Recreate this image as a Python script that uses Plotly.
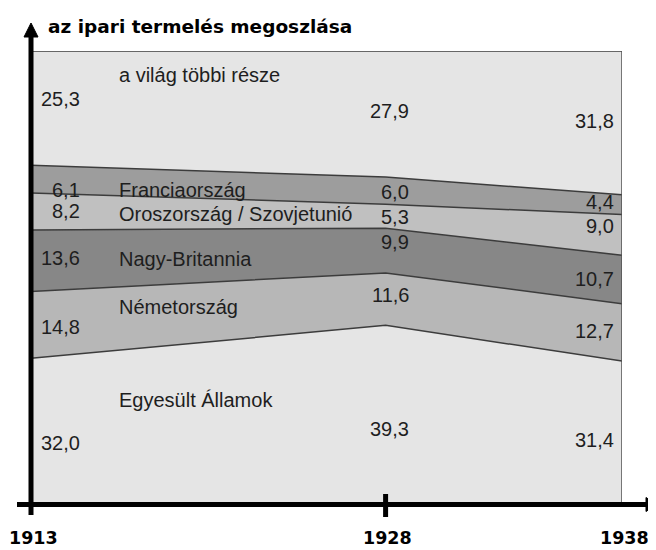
"""Share of world industrial production, 1913-1938 (stacked area)."""

import plotly.graph_objects as go

YEARS = [1913, 1928, 1938]

# bottom to top
COUNTRIES = [
    "Egyesült Államok",
    "Németország",
    "Nagy-Britannia",
    "Oroszország / Szovjetunió",
    "Franciaország",
    "a világ többi része",
]
USA = [32.0, 39.3, 31.4]
GERMANY = [14.8, 11.6, 12.7]
BRITAIN = [13.6, 9.9, 10.7]
RUSSIA = [8.2, 5.3, 9.0]
FRANCE = [6.1, 6.0, 4.4]
REST = [25.3, 27.9, 31.8]
SERIES = [USA, GERMANY, BRITAIN, RUSSIA, FRANCE, REST]

TITLE = "az ipari termelés megoszlása"

FILLS = ["#e5e5e5", "#b7b7b7", "#878787", "#c0c0c0", "#9d9d9d", "#e5e5e5"]
C_EDGE = "#3c3c3c"
C_TEXT = "#1e1e1e"
FONT = "Liberation Sans, Arial, sans-serif"
FONT_BOLD = "DejaVu Sans, sans-serif"

# pixel nudges for the value labels (per band, per year), relative to band middle
NUDGE = [
    [-12, -15, -8],
    [-2, 4, 1],
    [3, 9, 0],
    [0, -1, 9],
    [-11, -1, 3],
    [9, 3, 2],
]
# where the series names sit (percent on the y scale)
NAME_Y = [22.8, 43.4, 54.0, 63.9, 69.2, 94.7]
# value label right edges, pixels from each year's position
LABEL_XSHIFT = [51, 25, -6]

# the page body adds 8px on the left and top, so the figure is 8px smaller
W, H = 648, 542
M = dict(l=23, r=34, t=43, b=47)
PW = W - M["l"] - M["r"]
PH = H - M["t"] - M["b"]


def px_x(p):
    return p / PW


def px_y(p):
    return p / PH


fig = go.Figure()
for name, vals, fill in zip(COUNTRIES, SERIES, FILLS):
    fig.add_trace(
        go.Scatter(
            x=YEARS,
            y=vals,
            name=name,
            mode="lines",
            stackgroup="one",
            fillcolor=fill,
            line=dict(color=C_EDGE, width=1.5),
            hoverinfo="skip",
            showlegend=False,
        )
    )

annotations = []
base = [0.0] * len(YEARS)
for i, vals in enumerate(SERIES):
    for j, year in enumerate(YEARS):
        mid = base[j] + vals[j] / 2
        annotations.append(
            dict(
                x=year,
                y=mid,
                xref="x",
                yref="y",
                text=f"{vals[j]:.1f}".replace(".", ","),
                showarrow=False,
                xanchor="right",
                yanchor="middle",
                xshift=LABEL_XSHIFT[j],
                yshift=NUDGE[i][j],
                font=dict(family=FONT, size=20, color=C_TEXT),
            )
        )
    base = [b + v for b, v in zip(base, vals)]
    annotations.append(
        dict(
            x=YEARS[0],
            y=NAME_Y[i],
            xref="x",
            yref="y",
            text=COUNTRIES[i],
            showarrow=False,
            xanchor="left",
            yanchor="middle",
            xshift=86,
            font=dict(family=FONT, size=20, color=C_TEXT),
        )
    )

# year labels under the axis
for year in YEARS:
    annotations.append(
        dict(
            x=year,
            y=-px_y(35),
            xref="x",
            yref="paper",
            text=f"<b>{year}</b>",
            showarrow=False,
            xanchor="center",
            yanchor="middle",
            xshift=2,
            borderpad=0,
            font=dict(family=FONT_BOLD, size=17.5, color="#000000"),
        )
    )

annotations.append(
    dict(
        x=px_x(15),
        y=1 + px_y(25),
        xref="paper",
        yref="paper",
        text=f"<b>{TITLE}</b>",
        showarrow=False,
        xanchor="left",
        yanchor="middle",
        font=dict(family=FONT_BOLD, size=18.5, color="#000000"),
    )
)

shapes = [
    # right border of the plot
    dict(type="line", xref="x", yref="y", x0=YEARS[-1], x1=YEARS[-1], y0=0, y1=100,
         line=dict(color="#505050", width=1.5)),
    # y axis with arrow
    dict(type="line", xref="paper", yref="paper", x0=0, x1=0, y0=-px_y(12), y1=1 + px_y(15),
         line=dict(color="#000000", width=5)),
    dict(type="path", xref="paper", yref="paper",
         path=f"M {-px_x(7)},{1 + px_y(14)} L {px_x(7)},{1 + px_y(14)} L 0,{1 + px_y(28)} Z",
         fillcolor="#000000", line=dict(color="#000000", width=1)),
    # x axis with arrow
    dict(type="line", xref="paper", yref="paper", x0=-px_x(14), x1=1 + px_x(26),
         y0=-px_y(1.5), y1=-px_y(1.5), line=dict(color="#000000", width=5)),
    dict(type="path", xref="paper", yref="paper",
         path=f"M {1 + px_x(24)},{-px_y(8.5)} L {1 + px_x(24)},{px_y(5.5)} L {1 + px_x(35)},{-px_y(1.5)} Z",
         fillcolor="#000000", line=dict(color="#000000", width=1)),
    # tick at the middle year
    dict(type="line", xref="x", yref="paper", x0=YEARS[1], x1=YEARS[1], y0=px_y(9), y1=-px_y(14),
         line=dict(color="#000000", width=5)),
]

fig.update_layout(
    width=W,
    height=H,
    margin=M,
    paper_bgcolor="#ffffff",
    plot_bgcolor="#ffffff",
    showlegend=False,
    xaxis=dict(range=[YEARS[0], YEARS[-1]], visible=False, fixedrange=True),
    yaxis=dict(range=[0, 100], visible=False, fixedrange=True),
    annotations=annotations,
    shapes=shapes,
)

fig.write_html("out.html")
